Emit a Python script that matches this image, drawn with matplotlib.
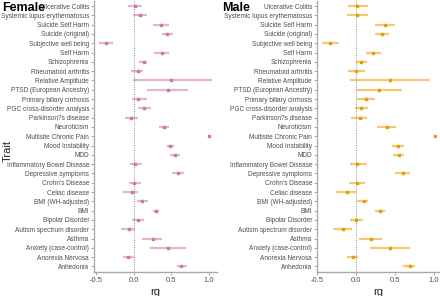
import numpy as np
import matplotlib.pyplot as plt

plt.rcParams['font.family'] = ['Liberation Sans', 'DejaVu Sans']

traits = ["Ulcerative Colitis", "Systemic lupus erythematosus", "Suicide Self Harm",
          "Suicide (original)", "Subjective well being", "Self Harm", "Schizophrenia",
          "Rheumatoid arthritis", "Relative Amplitude", "PTSD (European Ancestry)",
          "Primary biliary cirrhosis", "PGC cross-disorder analysis", "Parkinson?s disease",
          "Neuroticism", "Multisite Chronic Pain", "Mood Instability", "MDD",
          "Inflammatory Bowel Disease", "Depressive symptoms", "Crohn's Disease",
          "Celiac disease", "BMI (WH-adjusted)", "BMI", "Bipolar Disorder",
          "Autism spectrum disorder", "Asthma", "Anxiety (case-control)",
          "Anorexia Nervosa", "Anhedonia"]

female_rg = [0.01, 0.08, 0.36, 0.44, -0.37, 0.37, 0.13, 0.05, 0.50, 0.45,
             0.06, 0.14, -0.04, 0.40, 1.00, 0.48, 0.55, 0.01, 0.59, 0.00,
             -0.03, 0.11, 0.29, 0.06, -0.07, 0.25, 0.46, -0.08, 0.63]
female_lo = [-0.08, -0.01, 0.25, 0.37, -0.46, 0.27, 0.07, -0.04, -0.01, 0.17,
             -0.02, 0.06, -0.12, 0.33, 0.99, 0.44, 0.48, -0.05, 0.51, -0.07,
             -0.14, 0.04, 0.25, -0.02, -0.17, 0.11, 0.22, -0.15, 0.57]
female_hi = [0.11, 0.18, 0.47, 0.52, -0.28, 0.47, 0.18, 0.12, 1.04, 0.72,
             0.17, 0.23, 0.06, 0.47, 1.01, 0.54, 0.62, 0.11, 0.67, 0.10,
             0.06, 0.19, 0.34, 0.14, 0.01, 0.37, 0.70, 0.00, 0.71]

male_rg = [0.02, 0.02, 0.37, 0.34, -0.33, 0.22, 0.06, 0.00, 0.44, 0.29,
           0.13, 0.07, 0.05, 0.40, 1.01, 0.54, 0.55, 0.02, 0.60, 0.01,
           -0.12, 0.10, 0.31, 0.00, -0.17, 0.19, 0.44, -0.04, 0.69]
male_lo = [-0.10, -0.11, 0.24, 0.25, -0.44, 0.13, 0.00, -0.10, -0.07, 0.00,
           0.02, -0.01, -0.06, 0.27, 1.00, 0.46, 0.48, -0.08, 0.50, -0.09,
           -0.26, 0.02, 0.25, -0.08, -0.29, 0.04, 0.18, -0.12, 0.61]
male_hi = [0.15, 0.16, 0.50, 0.42, -0.22, 0.32, 0.14, 0.12, 0.95, 0.59,
           0.25, 0.16, 0.14, 0.51, 1.02, 0.62, 0.62, 0.14, 0.70, 0.12,
           0.00, 0.16, 0.37, 0.09, -0.05, 0.33, 0.69, 0.03, 0.76]

# name, data, colour, x-limits, axes left/right edge and title x (pixels)
panels = [("Female", female_rg, female_lo, female_hi, "#CC79A7", -0.53, 1.11, 94, 217, 2),
          ("Male", male_rg, male_lo, male_hi, "#E69F00", -0.49, 1.08, 317, 440, 222)]

W, H = 440, 296
fig = plt.figure(figsize=(W / 100, H / 100), dpi=100)
y = np.arange(len(traits))[::-1]
grey = "#4D4D4D"

for name, rg, lo, hi, col, xmin, xmax, left, right, tx in panels:
    ax = fig.add_axes([left / W, 24 / H, (right - left) / W, 271.5 / H])
    rg, lo, hi = np.array(rg), np.array(lo), np.array(hi)
    ax.hlines(y, lo, hi, color=col, alpha=0.55, linewidth=1.6)
    ax.scatter(rg, y, color=col, marker='s', s=3, zorder=3)
    ax.axvline(0, color="#888888", linestyle=(0, (1, 1.5)), linewidth=0.7)
    ax.set_xlim(xmin, xmax)
    ax.set_ylim(-0.6, len(traits) - 0.4)
    ax.set_yticks(y)
    ax.set_yticklabels(traits, fontsize=4.7, color=grey)
    ax.set_xticks([-0.5, 0.0, 0.5, 1.0])
    ax.set_xticklabels(["-0.5", "0.0", "0.5", "1.0"], fontsize=5.5, color=grey)
    ax.tick_params(length=2, width=0.6, color="#999999", pad=1.5)
    for s in ["top", "right"]:
        ax.spines[s].set_visible(False)
    for s in ["left", "bottom"]:
        ax.spines[s].set_color("#AAAAAA")
        ax.spines[s].set_linewidth(1.0)
    ax.set_xlabel("rg", fontsize=8, color="#222222", labelpad=2)
    ax.patch.set_alpha(0)
    fig.text(tx / W, 1 - 8 / H, name, fontsize=9, fontweight='bold',
             va='center', ha='left', color="black")

fig.text(8 / W, 145 / H, "Trait", rotation=90, fontsize=8, va='center', ha='center', color="#222222")

plt.savefig("out.png", dpi=100)
plt.close()
